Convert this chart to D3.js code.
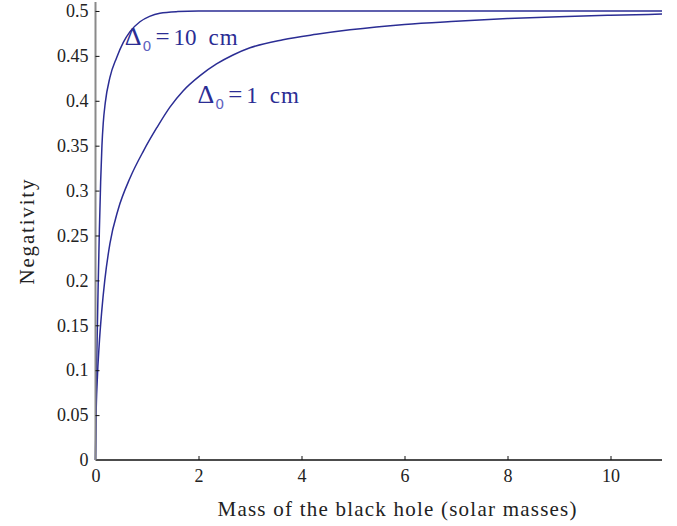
<!DOCTYPE html>
<html>
<head>
<meta charset="utf-8">
<script src="https://cdn.jsdelivr.net/npm/d3@7"></script>
<style>
  html, body { margin: 0; padding: 0; background: #fff; }
  svg { display: block; }
</style>
</head>
<body>
<svg id="chart" width="677" height="526"></svg>
<script>
// Negativity against black hole mass for two values of Δ0
const massDelta1 = [0, 0.01, 0.035, 0.07, 0.12, 0.18, 0.28, 0.44, 0.67, 0.93, 1.19, 1.445, 1.70, 2.03, 2.35, 2.67, 3.0, 3.64, 4.29, 4.94, 6, 7, 8, 9, 10, 11];
const negDelta1  = [0, 0.045, 0.09, 0.127, 0.165, 0.200, 0.241, 0.279, 0.314, 0.344, 0.370, 0.393, 0.411, 0.428, 0.441, 0.451, 0.459, 0.468, 0.474, 0.479, 0.485, 0.4885, 0.4915, 0.4937, 0.4953, 0.4965];

const massDelta10 = [0, 0.005, 0.015, 0.03, 0.05, 0.075, 0.1, 0.125, 0.15, 0.19, 0.28, 0.41, 0.54, 0.67, 0.863, 1.05, 1.25, 1.6, 2, 3, 4, 6, 8, 11];
const negDelta10  = [0, 0.04, 0.08, 0.13, 0.19, 0.255, 0.31, 0.35, 0.375, 0.398, 0.426, 0.448, 0.465, 0.477, 0.488, 0.494, 0.4975, 0.4993, 0.4999, 0.5, 0.5, 0.5, 0.5, 0.5];

const xTicks = [0, 2, 4, 6, 8, 10];
const yTicks = [0, 0.05, 0.1, 0.15, 0.2, 0.25, 0.3, 0.35, 0.4, 0.45, 0.5];

const curveLabels = [
  { sub: "0", value: "10", unit: "cm", m: 0.57, n: 0.462 },
  { sub: "0", value: "1",  unit: "cm", m: 1.98, n: 0.3975 }
];

const lineColor = "#2b2d94";
const serif = "'Liberation Serif', 'Times New Roman', serif";

const svg = d3.select("#chart");
const x = d3.scaleLinear().domain([0, 11]).range([95.5, 662]);
const y = d3.scaleLinear().domain([0, 0.51]).range([460, 2]);

// Curves
const line = d3.line().x(d => x(d[0])).y(d => y(d[1])).curve(d3.curveMonotoneX);
const series = [
  d3.zip(massDelta10, negDelta10),
  d3.zip(massDelta1, negDelta1)
];
svg.append("g").selectAll("path").data(series).join("path")
  .attr("d", line)
  .attr("fill", "none")
  .attr("stroke", lineColor)
  .attr("stroke-width", 1.5);

// Axes (ticks pointing into the plot)
const xAxis = svg.append("g").attr("transform", `translate(0,${y(0)})`)
  .call(d3.axisBottom(x).tickValues(xTicks).tickFormat(d3.format("d")).tickSize(-4).tickPadding(9));
xAxis.attr("font-family", serif).attr("font-size", 18);
xAxis.select(".domain").attr("stroke", "#111").attr("stroke-width", 1.5).attr("d", `M${x(0)},0H${x(11)}`);
xAxis.selectAll(".tick line").attr("stroke", "#111");
xAxis.selectAll(".tick text").attr("fill", "#222").style("font-family", serif);
xAxis.selectAll(".tick").filter(d => d === 0).select("line").remove();

const yAxis = svg.append("g").attr("transform", `translate(${x(0)},0)`)
  .call(d3.axisLeft(y).tickValues(yTicks).tickFormat(d => String(+d.toFixed(2))).tickSize(-4).tickPadding(7));
yAxis.attr("font-family", serif).attr("font-size", 18);
yAxis.select(".domain").attr("stroke", "#8a8a8a").attr("stroke-width", 2).attr("d", `M0,${y(0)}V${y(0.51)}`);
yAxis.selectAll(".tick line").attr("stroke", "#111");
yAxis.selectAll(".tick text").attr("fill", "#222").style("font-family", serif);
yAxis.selectAll(".tick").filter(d => d === 0).select("line").remove();

// Axis titles
svg.append("text")
  .attr("x", 397).attr("y", 516)
  .attr("text-anchor", "middle")
  .attr("font-family", serif)
  .attr("font-size", 21)
  .attr("fill", "#222")
  .attr("textLength", 359)
  .attr("lengthAdjust", "spacing")
  .text("Mass of the black hole (solar masses)");

svg.append("text")
  .attr("transform", "translate(34,232) rotate(-90)")
  .attr("text-anchor", "middle")
  .attr("font-family", serif)
  .attr("font-size", 21)
  .attr("fill", "#222")
  .attr("textLength", 105)
  .attr("lengthAdjust", "spacing")
  .text("Negativity");

// Curve annotations: Δ₀ = value unit
const lab = svg.append("g").selectAll("text").data(curveLabels).join("text")
  .attr("x", d => x(d.m)).attr("y", d => y(d.n))
  .attr("font-family", serif)
  .attr("font-size", 23)
  .attr("fill", lineColor);
lab.append("tspan").attr("font-size", 26).text("Δ");
lab.append("tspan").attr("font-family", "'DejaVu Sans', sans-serif").attr("font-size", 14).attr("dy", 6).attr("dx", 1).attr("fill", "#5f62c0").text(d => d.sub);
lab.append("tspan").attr("dy", -6).attr("dx", 4).attr("font-size", 25).text("=");
lab.append("tspan").attr("dx", 4).text(d => d.value);
lab.append("tspan").attr("dx", 12).attr("letter-spacing", 1).text(d => d.unit);
</script>
</body>
</html>
